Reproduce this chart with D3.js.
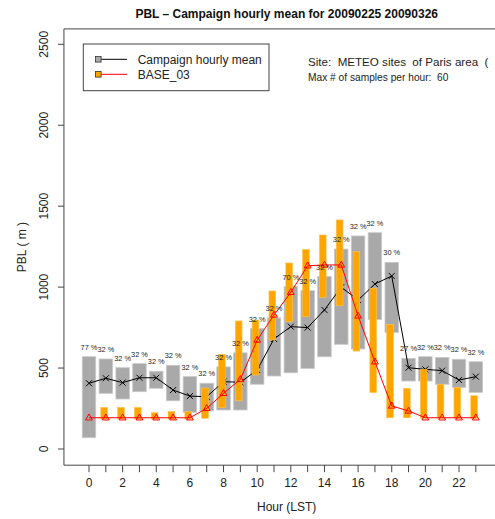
<!DOCTYPE html>
<html><head><meta charset="utf-8">
<script src="https://cdn.jsdelivr.net/npm/d3@7"></script>
<style>body{margin:0;background:#fff}svg{display:block}text{font-family:"Liberation Sans",Arial,Helvetica,sans-serif;white-space:pre}</style>
</head><body><svg id="c" width="495" height="519"></svg>
<script>
const hours = [0,1,2,3,4,5,6,7,8,9,10,11,12,13,14,15,16,17,18,19,20,21,22,23];
const grayHigh = [570,556,502,527,480,517,447,406,507,594,744,810,1003,978,1066,1235,1316,1336,1153,560,570,566,554,539];
const grayLow  = [70,344,309,354,375,298,227,235,241,241,400,451,471,498,570,647,618,800,720,420,420,400,381,350];
const meanVals = [406,437,410,440,440,364,327,323,416,412,488,680,756,750,859,1000,920,1019,1069,502,492,484,426,447];
const orangeHigh = [193,257,257,257,224,231,231,377,585,791,797,976,1149,1233,1322,1415,1219,993,770,375,492,400,381,329];
const orangeLow  = [193,185,185,185,185,185,185,190,255,298,457,673,786,817,937,885,605,348,193,193,190,190,190,190];
const baseVals = [193,193,193,193,193,193,193,251,344,430,673,828,968,1132,1137,1137,822,539,266,235,193,193,193,193];
const pctLabels = ["77 %","32 %","32 %","32 %","32 %","32 %","32 %","32 %","32 %","32 %","32 %","32 %","70 %","32 %","32 %","32 %","32 %","32 %","30 %","27 %","32 %","32 %","32 %","32 %"];
const yTicks = [0,500,1000,1500,2000,2500];
const xTicks = hours;
const xLabels = [0,2,4,6,8,10,12,14,16,18,20,22];
const legendNames = ["Campaign hourly mean","BASE_03"];
const titleText = "PBL \u2013 Campaign hourly mean for 20090225 20090326";
const siteText = "Site:  METEO sites  of Paris area  (";
const maxText = "Max # of samples per hour:  60";

const svg = d3.select("#c");
const x = d3.scaleLinear().domain([0,22]).range([89,459]);
const y = d3.scaleLinear().domain([0,2500]).range([449,44.3]);
const X0 = x(-1.49), X1 = x(25), Y0 = y(-100), Y1 = y(2595);

const g = svg.append("g");
g.selectAll("rect.gray").data(hours).join("rect")
  .attr("x", h => x(h-0.4)).attr("width", x(0.8)-x(0))
  .attr("y", (h,i) => y(grayHigh[i])).attr("height", (h,i) => y(grayLow[i]) - y(grayHigh[i]))
  .attr("fill","#a9a9a9").attr("stroke","#c8c8c8").attr("stroke-width",0.8);
const line = d3.line().x(d => x(d[0])).y(d => y(d[1]));
g.append("path").datum(hours.map((h,i)=>[h,meanVals[i]])).attr("d", line)
  .attr("fill","none").attr("stroke","#000").attr("stroke-width",1);
g.selectAll("path.xm").data(hours).join("path")
  .attr("d",(h,i)=>{const cx=x(h),cy=y(meanVals[i]),r=3;return `M${cx-r},${cy-r}L${cx+r},${cy+r}M${cx-r},${cy+r}L${cx+r},${cy-r}`;})
  .attr("stroke","#000").attr("stroke-width",1);
g.selectAll("rect.org").data(hours).join("rect")
  .attr("x", h => x(h-0.3)).attr("width", x(0.4)-x(0))
  .attr("y", (h,i) => y(orangeHigh[i])).attr("height", (h,i) => Math.max(0, y(orangeLow[i]) - y(orangeHigh[i])))
  .attr("fill","#ffa500").attr("stroke","#ffc34d").attr("stroke-width",0.6);
g.append("path").datum(hours.map((h,i)=>[h,baseVals[i]])).attr("d", line)
  .attr("fill","none").attr("stroke","#ff0000").attr("stroke-width",1);
g.selectAll("path.tri").data(hours).join("path")
  .attr("d",(h,i)=>{const cx=x(h),cy=y(baseVals[i]);return `M${cx},${cy-3.8}L${cx+3.4},${cy+2.2}L${cx-3.4},${cy+2.2}Z`;})
  .attr("fill","none").attr("stroke","#ff0000").attr("stroke-width",1);
g.selectAll("text.pct").data(hours).join("text")
  .attr("x", h => x(h)).attr("y",(h,i)=> y(grayHigh[i]) - 9.5).attr("dy","0.35em")
  .attr("text-anchor","middle").attr("font-size","7.4px").attr("fill","#222")
  .text((h,i)=>pctLabels[i]);

svg.append("path").attr("d",`M${X1},${Y1}H${X0}V${Y0}H${X1}`).attr("fill","none").attr("stroke","#444").attr("stroke-width",1);
const ya = svg.append("g");
ya.selectAll("line").data(yTicks).join("line").attr("x1",X0-6).attr("x2",X0).attr("y1",d=>y(d)).attr("y2",d=>y(d)).attr("stroke","#444");
ya.selectAll("text").data(yTicks).join("text")
  .attr("transform",d=>`translate(44,${y(d)}) rotate(-90)`).attr("text-anchor","middle").attr("dy","0.35em")
  .attr("font-size","12px").attr("fill","#222").text(d=>d);
const xa = svg.append("g");
xa.selectAll("line").data(xTicks).join("line").attr("x1",d=>x(d)).attr("x2",d=>x(d)).attr("y1",Y0).attr("y2",Y0+7).attr("stroke","#444");
xa.selectAll("text").data(xLabels).join("text").attr("x",d=>x(d)).attr("y",483).attr("dy","0.35em")
  .attr("text-anchor","middle").attr("font-size","12px").attr("fill","#222").text(d=>d);
svg.append("text").attr("x",(X0+X1)/2).attr("y",507).attr("dy","0.35em").attr("text-anchor","middle").attr("font-size","12px").attr("fill","#222").text("Hour (LST)");
svg.append("text").attr("transform",`translate(22,${(Y0+Y1)/2}) rotate(-90)`).attr("dy","0.35em").attr("text-anchor","middle").attr("font-size","12px").attr("fill","#222").text("PBL ( m )");
svg.append("text").attr("x",(X0+X1)/2).attr("y",14).attr("dy","0.35em").attr("text-anchor","middle").attr("font-size","12px").attr("font-weight","bold").attr("fill","#111").text(titleText);
const lg = svg.append("g");
lg.append("rect").attr("x",83.3).attr("y",44).attr("width",185.7).attr("height",46.7).attr("fill","#fff").attr("stroke","#444");
const legFill = ["#a9a9a9","#ffa500"], legLine = ["#000","#ff0000"];
legendNames.forEach((n,i)=>{
  const ly = 59.3 + i*15;
  lg.append("line").attr("x1",98).attr("x2",127).attr("y1",ly).attr("y2",ly).attr("stroke",legLine[i]).attr("stroke-width",1);
  lg.append("rect").attr("x",95.5).attr("y",ly-2.8).attr("width",5.6).attr("height",5.6).attr("fill",legFill[i]).attr("stroke","#333").attr("stroke-width",0.8);
  lg.append("text").attr("x",137.7).attr("y",ly).attr("dy","0.35em").attr("font-size","12px").attr("fill","#222").text(n);
});
svg.append("text").attr("x",308).attr("y",61.5).attr("dy","0.35em").attr("font-size","11.6px").attr("fill","#222").text(siteText);
svg.append("text").attr("x",308).attr("y",77.7).attr("dy","0.35em").attr("font-size","10.2px").attr("fill","#222").text(maxText);
</script></body></html>
